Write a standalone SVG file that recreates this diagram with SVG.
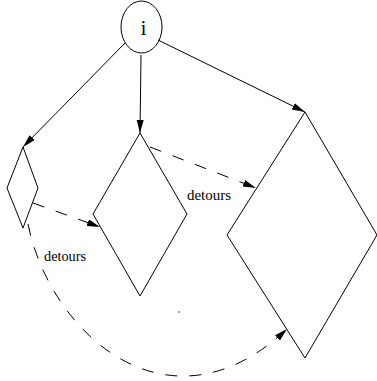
<svg xmlns="http://www.w3.org/2000/svg" width="377" height="381" viewBox="0 0 377 381">
  <style>
    .shape { fill: none; stroke: #000; stroke-width: 1; }
    .edge { fill: none; stroke: #000; stroke-width: 1; marker-end: url(#arrow); }
    .dashed { stroke-dasharray: 12 12; }
    .label { font-family: "Liberation Serif", "Times New Roman", serif; fill: #000; }
  </style>
  <defs>
    <marker id="arrow" markerUnits="userSpaceOnUse" markerWidth="14" markerHeight="8" refX="13" refY="3.5" orient="auto">
      <path d="M0,0 L13,3.5 L0,7 Z" fill="#000"/>
    </marker>
  </defs>

  <!-- root node -->
  <g id="node-i">
    <ellipse class="shape" cx="141.5" cy="27" rx="20.5" ry="26"/>
    <text class="label" x="143.5" y="35" font-size="20" text-anchor="middle">i</text>
  </g>

  <!-- diamonds -->
  <g id="node-small">
    <polygon class="shape" points="23,147 38,188 23,228 7,188"/>
  </g>
  <g id="node-medium">
    <polygon class="shape" points="140,133 187,214 140,296 93,214"/>
  </g>
  <g id="node-large">
    <polygon class="shape" points="305,112 377,235 305,358 227,235"/>
  </g>

  <!-- connectors -->
  <g id="connectors">
    <line class="edge" x1="125" y1="43" x2="23" y2="147"/>
    <line class="edge" x1="141" y1="55" x2="140" y2="133"/>
    <line class="edge" x1="158" y1="40" x2="305" y2="112"/>
    <line class="edge dashed" x1="33" y1="203" x2="100" y2="227"/>
    <line class="edge dashed" x1="150" y1="147" x2="256" y2="188"/>
    <path class="edge dashed" d="M28,224 C50,334 169,440 287,329"/>
  </g>

  <!-- labels -->
  <text class="label" x="187" y="200" font-size="15.5" textLength="44" lengthAdjust="spacingAndGlyphs">detours</text>
  <text class="label" x="44" y="261" font-size="15.5" textLength="42" lengthAdjust="spacingAndGlyphs">detours</text>

  <circle cx="179" cy="312" r="0.7" fill="#000"/>
</svg>
